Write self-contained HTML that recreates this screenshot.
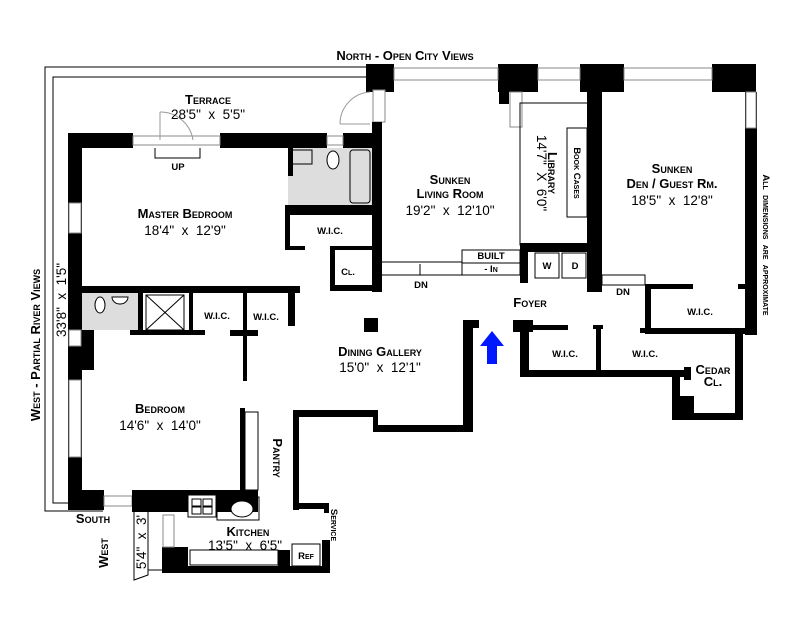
<!DOCTYPE html>
<html><head><meta charset="utf-8"><style>
html,body{margin:0;padding:0;background:#fff;}
svg{display:block}
text{font-family:"Liberation Sans",sans-serif;fill:#000;white-space:pre}
.t{font-weight:bold;font-size:13px;font-variant:small-caps;text-anchor:middle}
.d{font-size:13.5px;text-anchor:middle}
.s{font-weight:bold;font-size:9.5px;font-variant:small-caps;text-anchor:middle}
.w{fill:#000}
.win{fill:#fff;stroke:#888;stroke-width:1}
.thin{fill:none;stroke:#000;stroke-width:1}
</style></head><body>
<svg width="800" height="618" viewBox="0 0 800 618" xmlns="http://www.w3.org/2000/svg" xml:space="preserve">
<polyline class="thin" points="368,67 45,67 45,511 103,511"/>
<polyline class="thin" points="368,77 53,77 53,503 68,503"/>
<rect class="w" x="68" y="133" width="65" height="15"/>
<rect class="w" x="220" y="133" width="107" height="15"/>
<rect class="w" x="343" y="133" width="30" height="15"/>
<rect class="win" x="133" y="136" width="87" height="9"/>
<rect class="win" x="327" y="136" width="16" height="9"/>
<polyline class="thin" points="155,148 155,158 200,158 200,148"/>
<line x1="160" y1="140" x2="160" y2="112" stroke="#999"/>
<path d="M160,112 A33,33 0 0 1 193,140" fill="none" stroke="#999"/>
<rect class="w" x="68" y="133" width="14" height="377"/>
<rect class="win" x="69" y="203" width="12" height="30"/>
<rect class="win" x="69" y="330" width="12" height="16"/>
<rect class="win" x="69" y="380" width="12" height="77"/>
<rect class="w" x="366" y="64" width="28" height="28"/>
<rect class="w" x="498" y="64" width="40" height="28"/>
<rect class="w" x="580" y="64" width="44" height="28"/>
<rect class="w" x="712" y="64" width="44" height="28"/>
<rect class="win" x="394" y="68" width="104" height="12"/>
<rect class="win" x="538" y="68" width="42" height="12"/>
<rect class="win" x="624" y="68" width="88" height="12"/>
<rect class="w" x="745" y="92" width="12" height="243"/>
<rect class="win" x="746" y="92" width="10" height="36"/>
<rect class="win" x="373" y="90" width="12" height="32"/>
<path d="M340,124 A32,32 0 0 1 370,92" fill="none" stroke="#999"/>
<line x1="340" y1="124" x2="370" y2="124" stroke="#999"/>
<rect class="w" x="372" y="122" width="10" height="170"/>
<rect class="w" x="499" y="92" width="10" height="12"/>
<rect class="win" x="510" y="92" width="12" height="35"/>
<rect x="288" y="148" width="84" height="58" fill="#ddd"/>
<rect x="288" y="148" width="5" height="28" class="w"/>
<rect class="thin" x="292" y="150" width="20" height="14"/>
<ellipse cx="333" cy="160" rx="6" ry="9" fill="#fff" stroke="#000"/>
<rect class="thin" x="350" y="150" width="20" height="53" rx="3"/>
<rect class="w" x="285" y="205" width="90" height="10"/>
<rect class="w" x="285" y="205" width="5" height="45"/>
<rect class="w" x="285" y="246" width="20" height="4"/>
<rect class="w" x="330" y="246" width="45" height="4"/>
<rect class="w" x="330" y="246" width="5" height="45"/>
<rect class="w" x="330" y="285" width="45" height="6"/>
<rect class="w" x="82" y="286" width="218" height="7"/>
<rect x="82" y="293" width="56" height="37" fill="#ddd"/>
<ellipse cx="100" cy="305" rx="5" ry="8" fill="#fff" stroke="#000"/>
<path d="M112,297 a8,7 0 0 0 16,0 z" fill="#fff" stroke="#000"/>
<rect class="w" x="138" y="293" width="5" height="40"/>
<rect class="thin" x="146" y="295" width="38" height="35"/>
<line x1="146" y1="295" x2="184" y2="330" stroke="#000"/>
<line x1="184" y1="295" x2="146" y2="330" stroke="#000"/>
<rect class="w" x="189" y="293" width="4" height="42"/>
<rect class="w" x="130" y="330" width="75" height="5"/>
<rect class="w" x="243" y="293" width="4" height="88"/>
<rect class="w" x="230" y="330" width="28" height="6"/>
<rect class="w" x="288" y="293" width="7" height="33"/>
<rect class="w" x="82" y="330" width="12" height="40"/>
<rect class="w" x="240" y="408" width="5" height="82"/>
<rect class="thin" x="245" y="412" width="13" height="78"/>
<rect class="w" x="68" y="490" width="36" height="20"/>
<rect class="win" x="104" y="496" width="28" height="10"/>
<rect class="w" x="132" y="490" width="126" height="22"/>
<rect x="188" y="495" width="28" height="22" fill="#fff" stroke="#000"/>
<rect class="thin" x="192" y="499" width="9" height="7"/><rect class="thin" x="203" y="499" width="9" height="7"/>
<rect class="thin" x="192" y="507" width="9" height="7"/><rect class="thin" x="203" y="507" width="9" height="7"/>
<rect class="thin" x="217" y="497" width="42" height="23"/>
<ellipse cx="242" cy="509" rx="11" ry="8" fill="#fff" stroke="#000"/>
<rect class="w" x="162" y="547" width="26" height="26"/>
<rect class="win" x="163" y="515" width="11" height="32"/>
<rect class="w" x="162" y="566" width="168" height="7"/>
<rect class="thin" x="190" y="550" width="88" height="15"/>
<rect class="w" x="278" y="550" width="12" height="18"/>
<rect class="w" x="322" y="540" width="8" height="33"/>
<rect x="292" y="544" width="28" height="22" fill="#fff" stroke="#000"/>
<polyline class="thin" points="148,512 148,575 134,580 134,512"/>
<line x1="148" y1="570" x2="162" y2="570" stroke="#000"/>
<rect class="w" x="364" y="318" width="14" height="14"/>
<rect class="w" x="463" y="320" width="10" height="112"/>
<rect class="w" x="473" y="320" width="6" height="8"/>
<rect class="w" x="293" y="410" width="82" height="7"/>
<rect class="w" x="373" y="410" width="5" height="22"/>
<rect class="w" x="373" y="425" width="100" height="7"/>
<rect class="w" x="293" y="410" width="6" height="100"/>
<rect class="w" x="293" y="503" width="35" height="6"/>
<rect class="w" x="324" y="503" width="5" height="10"/>
<polyline class="thin" points="382,262 462,262 462,275 382,275"/>
<rect class="thin" x="462" y="250" width="58" height="13"/>
<rect class="thin" x="462" y="263" width="58" height="12"/>
<line x1="420" y1="275" x2="420" y2="264" stroke="#000"/>
<rect class="thin" x="520" y="103" width="70" height="142"/>
<rect class="thin" x="567" y="128" width="20" height="89"/>
<rect class="w" x="587" y="92" width="15" height="200"/>
<rect class="w" x="520" y="243" width="80" height="9"/>
<rect class="w" x="520" y="243" width="8" height="40"/>
<rect class="thin" x="535" y="253" width="24" height="25"/>
<rect class="thin" x="562" y="253" width="24" height="25"/>
<rect class="thin" x="602" y="275" width="43" height="10"/>
<rect class="w" x="645" y="284" width="6" height="48"/>
<rect class="w" x="645" y="284" width="48" height="5"/>
<rect class="w" x="738" y="284" width="8" height="5"/>
<rect class="w" x="645" y="328" width="112" height="6"/>
<rect class="w" x="513" y="320" width="20" height="12"/>
<rect class="w" x="520" y="325" width="48" height="5"/>
<rect class="w" x="520" y="325" width="9" height="52"/>
<rect class="w" x="520" y="370" width="168" height="7"/>
<rect class="w" x="596" y="325" width="5" height="50"/>
<rect class="w" x="593" y="325" width="10" height="4"/>
<rect class="w" x="640" y="328" width="10" height="5"/>
<rect class="w" x="735" y="328" width="8" height="92"/>
<rect class="w" x="684" y="367" width="7" height="13"/>
<rect class="w" x="672" y="375" width="8" height="45"/>
<rect class="w" x="672" y="396" width="22" height="24"/>
<rect class="w" x="672" y="413" width="71" height="7"/>
<polygon points="492,331 504,346 497,346 497,364 487,364 487,346 480,346" fill="#0018ff"/>
<text class="t" x="405" y="60">North - Open City Views</text>
<text class="t" x="208" y="104">Terrace</text>
<text class="d" x="208" y="119">28'5"  x  5'5"</text>
<text class="s" x="178" y="170" font-size="11">UP</text>
<text class="t" x="185" y="218">Master Bedroom</text>
<text class="d" x="185" y="235">18'4"  x  12'9"</text>
<text class="s" x="330" y="234" font-size="11">W.I.C.</text>
<text class="s" x="348" y="275" font-size="11">Cl.</text>
<text class="t" x="450" y="184">Sunken</text>
<text class="t" x="450" y="198">Living Room</text>
<text class="d" x="450" y="215">19'2"  x  12'10"</text>
<text class="t" transform="translate(548,173) rotate(90)">Library</text>
<text class="d" font-size="12" transform="translate(537,173) rotate(90)">14'7"  X  6'0"</text>
<text class="s" transform="translate(574,173) rotate(90)">Book Cases</text>
<text class="t" x="672" y="173">Sunken</text>
<text class="t" x="672" y="188">Den / Guest Rm.</text>
<text class="d" x="672" y="205">18'5"  x  12'8"</text>
<text class="s" transform="translate(763,245) rotate(90)">All  dimensions  are  approximate</text>
<text class="s" x="547" y="269" font-size="10">W</text>
<text class="s" x="575" y="269" font-size="10">D</text>
<text class="s" x="491" y="259" font-size="8">BUILT</text>
<text class="s" x="491" y="272" font-size="9">- In</text>
<text class="s" x="421" y="288" font-size="12">DN</text>
<text class="s" x="623" y="295" font-size="12">DN</text>
<text class="t" x="530" y="307">Foyer</text>
<text class="s" x="700" y="315" font-size="12">W.I.C.</text>
<text class="s" x="565" y="357" font-size="12">W.I.C.</text>
<text class="s" x="645" y="357" font-size="12">W.I.C.</text>
<text class="t" x="713" y="374" font-size="12">Cedar</text>
<text class="t" x="713" y="386" font-size="12">Cl.</text>
<text class="s" x="217" y="319" font-size="12">W.I.C.</text>
<text class="s" x="266" y="320" font-size="12">W.I.C.</text>
<text class="t" x="380" y="356">Dining Gallery</text>
<text class="d" x="380" y="372">15'0"  x  12'1"</text>
<text class="t" x="160" y="413">Bedroom</text>
<text class="d" x="160" y="430">14'6"  x  14'0"</text>
<text class="t" transform="translate(273,458) rotate(90)">Pantry</text>
<text class="t" x="248" y="536">Kitchen</text>
<text class="d" x="245" y="550">13'5"  x  6'5"</text>
<text class="s" x="306" y="559" font-size="9">Ref</text>
<text class="s" font-size="8.5" transform="translate(331,525) rotate(90)">Service</text>
<text class="t" x="93" y="523" font-size="11">South</text>
<text class="t" font-size="11" transform="translate(108,553) rotate(-90)">West</text>
<text class="d" font-size="12" transform="translate(146,542) rotate(-90)">5'4"  x  3'</text>
<text class="t" transform="translate(40,345) rotate(-90)">West - Partial River Views</text>
<text class="d" font-size="12.5" transform="translate(66,300) rotate(-90)">33'8"  x  1'5"</text>
</svg>
</body></html>
